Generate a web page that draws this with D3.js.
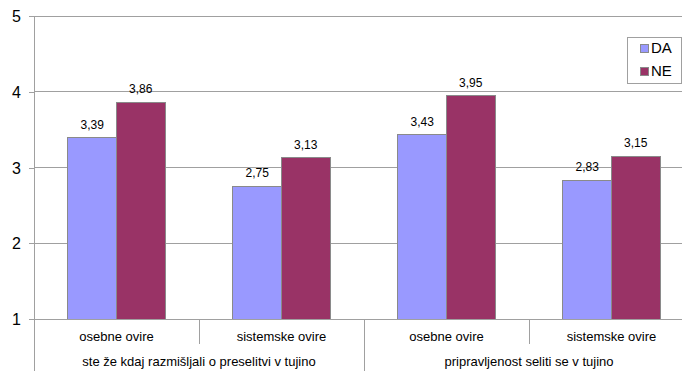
<!DOCTYPE html>
<html>
<head>
<meta charset="utf-8">
<script src="https://d3js.org/d3.v7.min.js"></script>
<style>
  body { margin: 0; background: #fff; }
  svg text { font-family: "Liberation Sans", Arial, sans-serif; fill: #000; }
</style>
</head>
<body>
<div id="chart"></div>
<script>
var subLabels = ["osebne ovire", "sistemske ovire", "osebne ovire", "sistemske ovire"];
var groupLabels = ["ste že kdaj razmišljali o preselitvi v tujino", "pripravljenost seliti se v tujino"];
var series = ["DA", "NE"];
var valuesDA = [3.39, 2.75, 3.43, 2.83];
var valuesNE = [3.86, 3.13, 3.95, 3.15];
var yTicks = [1, 2, 3, 4, 5];
var colors = ["#9999ff", "#993366"];

var W = 682, H = 371;
var mLeft = 34, mTop = 16, plotW = 660, plotH = 303;

var svg = d3.select("#chart").append("svg")
  .attr("width", W).attr("height", H);

var x = d3.scaleBand().domain(d3.range(subLabels.length)).range([mLeft, mLeft + plotW]);
var xs = d3.scaleBand().domain(series).range([0, x.bandwidth()]).paddingOuter(0.7).paddingInner(0);
var y = d3.scaleLinear().domain([1, 5]).range([mTop + plotH, mTop]);

// gridlines
svg.append("g").selectAll("line").data(yTicks.slice(1)).enter().append("line")
  .attr("x1", mLeft).attr("x2", mLeft + plotW)
  .attr("y1", function (d) { return y(d); }).attr("y2", function (d) { return y(d); })
  .attr("stroke", "#a0a0a0").attr("stroke-width", 1).attr("shape-rendering", "crispEdges");

// y axis
var yAxis = d3.axisLeft(y).tickValues(yTicks).tickSize(5).tickPadding(8).tickFormat(d3.format("d"));
var gy = svg.append("g").attr("transform", "translate(" + mLeft + ",0)").call(yAxis);
gy.select(".domain").remove();
gy.selectAll("line").attr("stroke", "#a0a0a0").attr("shape-rendering", "crispEdges");
gy.selectAll("text").style("font-size", "16px").attr("dy", "0.35em");
svg.append("line").attr("x1", mLeft).attr("x2", mLeft).attr("y1", mTop).attr("y2", H)
  .attr("stroke", "#a0a0a0").attr("shape-rendering", "crispEdges");

// bars
var data = subLabels.map(function (c, i) { return { i: i, vals: [valuesDA[i], valuesNE[i]] }; });
var groups = svg.append("g").selectAll("g").data(data).enter().append("g")
  .attr("transform", function (d) { return "translate(" + x(d.i) + ",0)"; });

groups.selectAll("rect").data(function (d) {
  return d.vals.map(function (v, k) { return { s: series[k], v: v, k: k }; });
}).enter().append("rect")
  .attr("x", function (d) { return xs(d.s); })
  .attr("width", xs.bandwidth())
  .attr("y", function (d) { return y(d.v); })
  .attr("height", function (d) { return y(1) - y(d.v); })
  .attr("fill", function (d) { return colors[d.k]; })
  .attr("stroke", "#8a8a8a").attr("stroke-width", 1).attr("shape-rendering", "crispEdges");

groups.selectAll("text.val").data(function (d) {
  return d.vals.map(function (v, k) { return { s: series[k], v: v }; });
}).enter().append("text")
  .attr("class", "val")
  .attr("x", function (d) { return xs(d.s) + xs.bandwidth() / 2; })
  .attr("y", function (d) { return y(d.v) - 9; })
  .attr("text-anchor", "middle")
  .style("font-size", "12px")
  .text(function (d) { return d3.format(".2f")(d.v).replace(".", ","); });

// x axis line
svg.append("line").attr("x1", mLeft).attr("x2", mLeft + plotW)
  .attr("y1", y(1)).attr("y2", y(1))
  .attr("stroke", "#a0a0a0").attr("shape-rendering", "crispEdges");

// category separators
svg.append("g").selectAll("line").data(d3.range(1, subLabels.length + 1)).enter().append("line")
  .attr("x1", function (d) { return d < subLabels.length ? x(d) : mLeft + plotW; })
  .attr("x2", function (d) { return d < subLabels.length ? x(d) : mLeft + plotW; })
  .attr("y1", y(1))
  .attr("y2", function (d) { return d % 2 === 0 ? H : y(1) + 25; })
  .attr("stroke", "#a0a0a0").attr("shape-rendering", "crispEdges");

svg.append("g").selectAll("text").data(subLabels).enter().append("text")
  .attr("x", function (d, i) { return x(i) + x.bandwidth() / 2; })
  .attr("y", y(1) + 22)
  .attr("text-anchor", "middle")
  .style("font-size", "13px")
  .text(function (d) { return d; });

svg.append("g").selectAll("text").data(groupLabels).enter().append("text")
  .attr("x", function (d, i) { return x(i * 2) + x.bandwidth(); })
  .attr("y", y(1) + 47)
  .attr("text-anchor", "middle")
  .style("font-size", "13px")
  .text(function (d) { return d; });

// legend
var lg = svg.append("g").attr("transform", "translate(627,37)");
lg.append("rect").attr("width", 54).attr("height", 46)
  .attr("fill", "#fff").attr("stroke", "#a0a0a0").attr("shape-rendering", "crispEdges");
var li = lg.selectAll("g").data(series).enter().append("g")
  .attr("transform", function (d, i) { return "translate(13," + (11 + i * 23) + ")"; });
li.append("rect").attr("width", 8).attr("height", 8).attr("y", -4)
  .attr("fill", function (d, i) { return colors[i]; })
  .attr("stroke", "#8a8a8a").attr("shape-rendering", "crispEdges");
li.append("text").attr("x", 11).attr("dy", "0.35em").style("font-size", "15px")
  .text(function (d) { return d; });
</script>
</body>
</html>
